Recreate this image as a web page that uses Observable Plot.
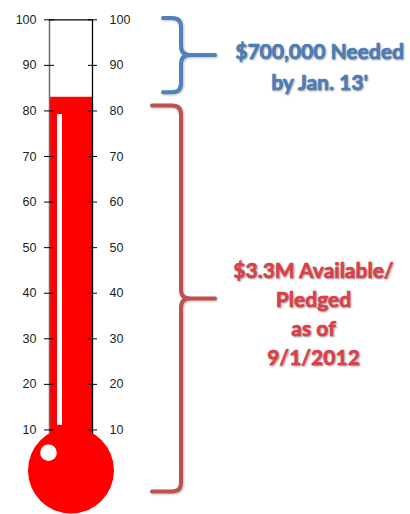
<!DOCTYPE html>
<html><head><meta charset="utf-8">
<script src="https://cdn.jsdelivr.net/npm/d3@7"></script>
<script src="https://cdn.jsdelivr.net/npm/@observablehq/plot@0.6"></script>
<style>
html,body{margin:0;padding:0;background:#fff;}
.note text{ text-shadow: 1px 1px 2px rgba(0,0,0,0.3); }
.brace path{ filter: drop-shadow(1px 1px 1px rgba(0,0,0,0.25)); }
</style></head><body><div id="chart"></div>
<script>
// ---- data ----
const ticks = [10, 20, 30, 40, 50, 60, 70, 80, 90, 100];
const goal = 100;
const pledged = 83;
const neededLines = ["$700,000 Needed", "by Jan. 13'"];
const pledgedLines = ["$3.3M Available/", "Pledged", "as of", "9/1/2012"];
const neededRange = [84, 100.3];
const pledgedRange = [-3.6, 81.1];
const highlightRange = [11, 79.2];
const bulbValue = 1.1;
const glintValue = 5;
const neckValue = 7;

// ---- layout (px) ----
const W = 410, H = 514;
const tubeL = 49, tubeR = 92, bulbX = 70.5, bulbR = 43;

function braceMark(range, color, left) {
  return (index, scales) => {
    const y = (scales && scales.y) ? scales.y : (v => 475 - v * (475 - 19.3) / 100);
    const t = y(range[1]), b = y(range[0]), m = (t + b) / 2;
    const v = 181, tip = 215, r = 9;
    const p = d3.path();
    p.moveTo(left, t); p.lineTo(v - r, t); p.quadraticCurveTo(v, t, v, t + r);
    p.lineTo(v, m - r); p.quadraticCurveTo(v, m, v + r, m); p.lineTo(tip, m);
    p.moveTo(v + r, m); p.quadraticCurveTo(v, m, v, m + r);
    p.lineTo(v, b - r); p.quadraticCurveTo(v, b, v - r, b); p.lineTo(left, b);
    const g = d3.create("svg:g").attr("class", "brace");
    g.append("path").attr("d", p.toString()).attr("fill", "none")
      .attr("stroke", color).attr("stroke-width", 4).attr("stroke-linecap", "round");
    return g.node();
  };
}

const chart = Plot.plot({
  width: W, height: H,
  marginTop: 0, marginBottom: 0, marginLeft: 0, marginRight: 0,
  x: {domain: [0, W], range: [0, W], axis: null},
  y: {domain: [0, 100], range: [475, 19.3], axis: null},
  style: {background: "#fff", overflow: "visible"},
  marks: [
    Plot.rect([pledged], {x1: tubeL, x2: tubeR, y1: bulbValue, y2: d => d, fill: "#ff0000"}),
    Plot.ruleX([tubeL], {y1: neckValue, y2: goal, stroke: "#6e6e6e", strokeWidth: 1.5}),
    Plot.ruleX([tubeR], {y1: neckValue, y2: goal, stroke: "#000", strokeWidth: 1.3}),
    Plot.ruleY([goal], {x1: tubeL, x2: tubeR, stroke: "#000", strokeWidth: 1.2}),
    Plot.ruleY(ticks, {x1: 44, x2: 54, stroke: "#000", strokeWidth: 1}),
    Plot.ruleY(ticks, {x1: 88, x2: 97, stroke: "#000", strokeWidth: 1}),
    Plot.dot([bulbValue], {x: bulbX, y: d => d, r: bulbR, fill: "#ff0000"}),
    Plot.rect([highlightRange], {x1: 57, x2: 62, y1: d => d[0], y2: d => d[1], fill: "#fff"}),
    Plot.dot([glintValue], {x: 48, y: d => d, r: 8.3, fill: "#fff"}),
    Plot.text(ticks, {x: 36, y: d => d, text: d => String(d), textAnchor: "end",
      fontSize: 12.5, fontFamily: "Liberation Sans, Arial, sans-serif", fill: "#1e1e1e"}),
    Plot.text(ticks, {x: 109, y: d => d, text: d => String(d), textAnchor: "start",
      fontSize: 12.5, fontFamily: "Liberation Sans, Arial, sans-serif", fill: "#1e1e1e"}),
    braceMark(neededRange, "#4f81bd", 163),
    braceMark(pledgedRange, "#c0504d", 152),
    Plot.text([neededLines.join("\n")], {x: 319, y: (neededRange[0] + neededRange[1]) / 2, dy: 9,
      lineHeight: 1.45, fontSize: 21, fontWeight: 700, fontFamily: "Lato, sans-serif",
      fill: "#4a7ebb", stroke: "#4a7ebb", strokeWidth: 0.6, className: "note"}),
    Plot.text([pledgedLines.join("\n")], {x: 313, y: (pledgedRange[0] + pledgedRange[1]) / 2, dy: 13,
      lineHeight: 1.38, fontSize: 21, fontWeight: 700, fontFamily: "Lato, sans-serif",
      fill: "#dd3f48", stroke: "#dd3f48", strokeWidth: 0.6, className: "note"})
  ]
});
document.getElementById("chart").appendChild(chart);
</script>
</body></html>
